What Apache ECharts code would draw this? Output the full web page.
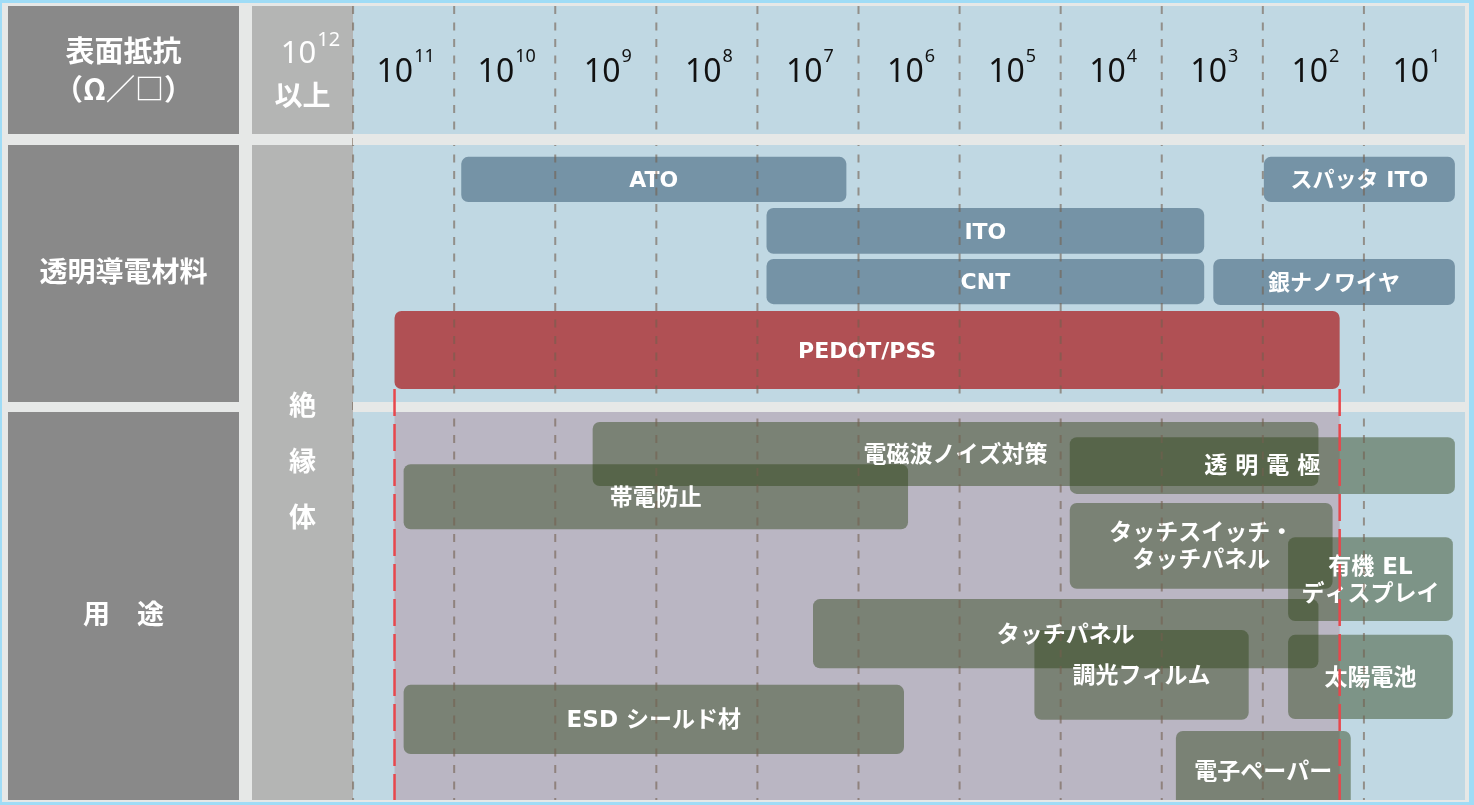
<!DOCTYPE html>
<html><head><meta charset="utf-8">
<script src="https://cdn.jsdelivr.net/npm/echarts@6/dist/echarts.min.js"></script>
<style>html,body{margin:0;padding:0;background:#e6e8e7;}#c{width:1474px;height:805px;}</style>
</head><body><div id="c"></div>
<script>
// ---- data (x = log10 of surface resistance, y = vertical lane position 0..100) ----
const tickExponents = [11, 10, 9, 8, 7, 6, 5, 4, 3, 2, 1];
const topExponent = 12;
const topExponentSuffix = '以上';
const headerTitle = ['表面抵抗', '（Ω／□）'];
const sectionTitles = ['透明導電材料', '用　途'];
const insulatorLabel = '絶縁体';

const materialNames  = ['ATO', 'スパッタ ITO', 'ITO', 'CNT', '銀ナノワイヤ', 'PEDOT/PSS'];
const materialFrom   = [10.43, 2.49, 7.41, 7.41, 2.99, 11.09];
const materialTo     = [6.62, 0.60, 3.08, 3.08, 0.60, 1.74];
const materialTop    = [19.0, 19.0, 25.45, 31.85, 31.85, 38.4];
const materialBottom = [24.7, 24.7, 31.2, 37.55, 37.65, 48.25];
const highlightMaterial = 'PEDOT/PSS';

const appNames  = ['電磁波ノイズ対策', '透 明 電 極', '帯電防止', 'タッチスイッチ・\nタッチパネル', '有機 EL\nディスプレイ', 'タッチパネル', '調光フィルム', '太陽電池', 'ESD シールド材', '電子ペーパー'];
const appFrom   = [9.13, 4.41, 11.0, 4.41, 2.25, 6.95, 4.76, 2.25, 11.0, 3.36];
const appTo     = [1.95, 0.60, 6.01, 1.81, 0.62, 1.95, 2.64, 0.62, 6.05, 1.63];
const appTop    = [52.4, 54.3, 57.7, 62.6, 66.9, 74.7, 78.6, 79.2, 85.5, 91.3];
const appBottom = [60.45, 61.45, 65.9, 73.4, 77.45, 83.4, 89.9, 89.8, 94.2, 101.4];

// ---- layout (pixels) ----
const L = { c1L: 8, c1R: 239, c2L: 252, pL: 353, pR: 1465, top: 6, headB: 134, s2T: 145, s2B: 402, s3T: 412, bot: 800 };
const BG = '#e6e8e7';
const FONT_CJK = "'Noto Sans CJK JP', sans-serif";
const FONT_BAR = "'DejaVu Sans', 'Noto Sans CJK JP', sans-serif";
const FONT_NUM = "'Noto Sans', sans-serif";

const chart = echarts.init(document.getElementById('c'), null, { renderer: 'canvas' });

const pIdx = materialNames.indexOf(highlightMaterial);
const boundaries = tickExponents.map(e => e + 0.5);

function rect(x, y, w, h, fill, z) { return { type: 'rect', shape: { x, y, width: w, height: h }, style: { fill }, z: z || 0, silent: true }; }
function txt(text, x, y, size, z) {
  return { type: 'text', z: z || 1, silent: true,
    style: { text, x, y, align: 'center', verticalAlign: 'middle', fill: '#fff', font: 'bold ' + size + 'px ' + FONT_CJK } };
}

const graphics = [
  rect(0, 0, 1474, 805, '#9fdcf6', -5),
  rect(2, 3, 1467, 799, BG, -4),
  rect(L.c1L, L.top, L.c1R - L.c1L, L.headB - L.top, '#898989', 0),
  rect(L.c1L, L.s2T, L.c1R - L.c1L, L.s2B - L.s2T, '#898989', 0),
  rect(L.c1L, L.s3T, L.c1R - L.c1L, L.bot - L.s3T, '#898989', 0),
  rect(L.c2L, L.top, L.pL - L.c2L, L.headB - L.top, '#b4b5b4', 0),
  rect(L.c2L, L.s2T, L.pL - L.c2L, L.bot - L.s2T, '#b4b5b4', 0),
  rect(L.pL, L.top, L.pR - L.pL, L.bot - L.top, '#c0d8e3', 0),
  rect(L.pL, L.headB, L.pR - L.pL, L.s2T - L.headB, BG, 8),
  rect(L.pL, L.s2B, L.pR - L.pL, L.s3T - L.s2B, BG, 8),
  txt(headerTitle[0], (L.c1L + L.c1R) / 2, 51, 29, 1),
  txt(headerTitle[1], (L.c1L + L.c1R) / 2, 89, 29, 1),
  txt(sectionTitles[0], (L.c1L + L.c1R) / 2, 271, 28, 1),
  txt(sectionTitles[1], (L.c1L + L.c1R) / 2, 614, 27, 1),
  txt(insulatorLabel.split('').join('\n'), (L.c2L + L.pL) / 2, 461, 27, 1),
];
graphics[graphics.length - 1].style.lineHeight = 56;

function barItem(params, api, name, fill, fontSize) {
  const p1 = api.coord([api.value(0), api.value(2)]);
  const p2 = api.coord([api.value(1), api.value(3)]);
  const x = Math.min(p1[0], p2[0]), w = Math.abs(p2[0] - p1[0]);
  const y = Math.min(p1[1], p2[1]), h = Math.abs(p2[1] - p1[1]);
  return { type: 'group', children: [
    { type: 'rect', z2: 0, shape: { x, y, width: w, height: h, r: 7 }, style: { fill } },
    { type: 'text', z2: 100, style: { text: name, x: x + w / 2, y: y + h / 2 + 2, align: 'center', verticalAlign: 'middle',
      fill: '#fff', font: 'bold ' + fontSize + 'px ' + FONT_BAR, lineHeight: 27 } }
  ]};
}

// "10" with a raised exponent, centred on cx
function powerLabel(cx, exp, baseSize, supSize, yBase, ySup, color) {
  const s = String(exp);
  const wBase = 2 * 0.572 * baseSize, wSup = s.length * 0.572 * supSize;
  const x0 = cx - (wBase + wSup + 1) / 2;
  return { type: 'group', children: [
    { type: 'text', style: { text: '10', x: x0, y: yBase, align: 'left', verticalAlign: 'middle', fill: color, font: baseSize + 'px ' + FONT_NUM } },
    { type: 'text', style: { text: s, x: x0 + wBase + 1, y: ySup, align: 'left', verticalAlign: 'middle', fill: color, font: supSize + 'px ' + FONT_NUM } }
  ]};
}

const option = {
  animation: false,
  backgroundColor: BG,
  graphic: { elements: graphics },
  grid: { left: L.c2L, right: 1474 - L.pR, top: L.top, bottom: 805 - L.bot },
  xAxis: { type: 'value', inverse: true, min: 0.5, max: 12.5, show: false },
  yAxis: { type: 'value', inverse: true, min: 0, max: 100, show: false },
  series: [
    { // application zone spanning the highlighted material's range
      type: 'custom', z: 1, silent: true,
      data: [[materialFrom[pIdx], materialTo[pIdx], materialBottom[pIdx]]],
      renderItem: (params, api) => {
        const a = api.coord([api.value(0), 0])[0], b = api.coord([api.value(1), 0])[0];
        return { type: 'rect', shape: { x: Math.min(a, b), y: L.s3T, width: Math.abs(b - a), height: L.bot - L.s3T }, style: { fill: '#bab6c3' } };
      }
    },
    { // transparent conductive materials
      type: 'custom', z: 3, silent: true,
      data: materialNames.map((n, i) => [materialFrom[i], materialTo[i], materialTop[i], materialBottom[i]]),
      renderItem: (params, api) => barItem(params, api, materialNames[params.dataIndex],
        materialNames[params.dataIndex] === highlightMaterial ? '#b05054' : '#7593a6', 22)
    },
    { // applications
      type: 'custom', z: 4, silent: true, clip: true,
      data: appNames.map((n, i) => [appFrom[i], appTo[i], appTop[i], appBottom[i]]),
      renderItem: (params, api) => barItem(params, api, appNames[params.dataIndex], 'rgba(44,66,23,0.45)', 23)
    },
    { // decade boundary dashed lines
      type: 'custom', z: 6, silent: true,
      data: boundaries.map(b => [b]),
      renderItem: (params, api) => {
        const t = api.coord([api.value(0), 0]), b = api.coord([api.value(0), 100]);
        return { type: 'line', shape: { x1: t[0], y1: t[1], x2: b[0], y2: b[1] },
          style: { stroke: 'rgba(115,95,78,0.6)', lineWidth: 2, lineDash: [8, 8.5] } };
      }
    },
    { // tick labels in the header row
      type: 'custom', z: 7, silent: true,
      data: tickExponents.map(e => [e]),
      renderItem: (params, api) => {
        const x = api.coord([api.value(0), 0])[0];
        return powerLabel(x + 2, api.value(0), 32, 18, 73, 57, '#111');
      }
    },
    { // 10^12 以上 header
      type: 'custom', z: 7, silent: true,
      data: [[topExponent]],
      renderItem: (params, api) => {
        const x = api.coord([api.value(0), 0])[0];
        const g = powerLabel(x + 8, api.value(0), 31, 20, 54, 40, '#fff');
        g.children.push({ type: 'text', style: { text: topExponentSuffix, x: x, y: 95, align: 'center', verticalAlign: 'middle', fill: '#fff',
            font: 'bold 28px ' + FONT_CJK } });
        return g;
      }
    },
    { // red dashed limits of the highlighted material
      type: 'custom', z: 9, silent: true,
      data: [[materialFrom[pIdx], materialBottom[pIdx]], [materialTo[pIdx], materialBottom[pIdx]]],
      renderItem: (params, api) => {
        const p = api.coord([api.value(0), api.value(1)]);
        return { type: 'line', shape: { x1: p[0], y1: p[1], x2: p[0], y2: L.bot },
          style: { stroke: '#e8474c', lineWidth: 2.5, lineDash: [27, 8] } };
      }
    }
  ]
};
chart.setOption(option);
</script></body></html>
